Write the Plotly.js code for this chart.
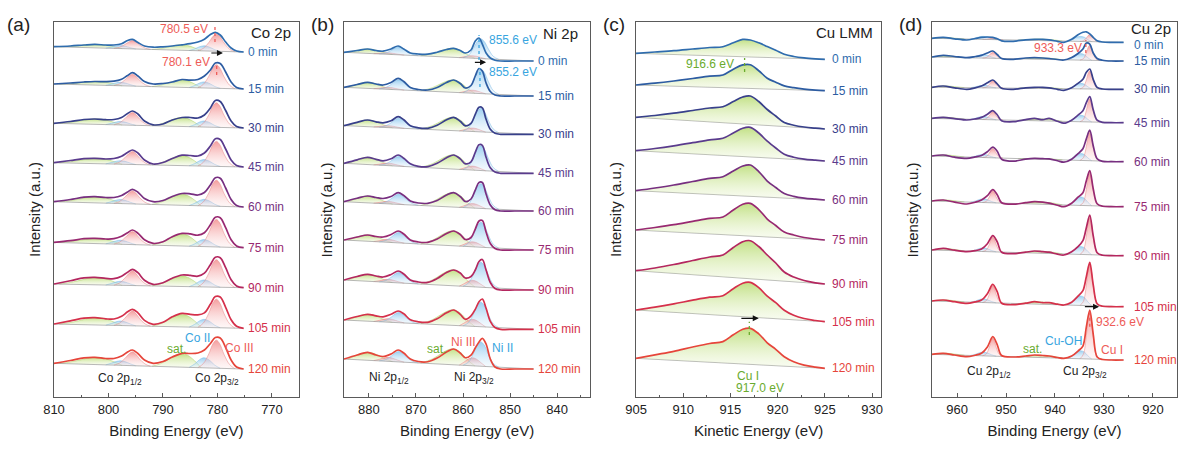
<!DOCTYPE html>
<html><head><meta charset="utf-8">
<script src="https://cdn.plot.ly/plotly-3.0.1.min.js"></script>
<style>html,body{margin:0;padding:0;background:#fff}#chart{width:1192px;height:451px}</style>
</head><body><div id="chart"></div>
<script>
// ---------- shared ----------
const times = ['0 min','15 min','30 min','45 min','60 min','75 min','90 min','105 min','120 min'];

// ---------- (a) Co 2p ----------
const coEnergy = [810, 807, 804.5, 802.5, 800.5, 799, 797.6, 796.5, 795.6, 794.6, 793.4, 791.8, 790, 788.3, 786.5, 785, 783.6, 782.4, 781.3, 780.4, 779.5, 778.5, 777.5, 776.5, 775.2];
const coLevels = [345, 308, 269, 230, 190, 149.3, 109.3, 68.7, 28];
const co0   = [5.3, 6.0, 7.0, 7.6, 7.0, 7.0, 8.3, 11.5, 12.6, 9.5, 6.0, 4.8, 5.2, 6.0, 7.2, 8.3, 10.0, 12.8, 17.5, 19.7, 17.0, 10.0, 4.0, 1.0, 0];
const co15  = [5.0, 6.0, 7.0, 7.5, 7.3, 7.8, 9.8, 13.5, 16.3, 13.0, 7.5, 5.0, 5.5, 7.0, 9.5, 8.8, 9.5, 13.0, 19.0, 26.0, 25.5, 17.0, 7.0, 1.5, 0];
const co30  = [4.7, 6.5, 8.5, 9.0, 8.3, 8.5, 10.5, 14.5, 17.0, 14.0, 7.0, 3.2, 4.0, 8.0, 10.5, 10.5, 10.0, 13.0, 20.0, 27.5, 26.5, 17.5, 7.0, 1.5, 0];
const co45  = [4.3, 6.5, 8.3, 8.7, 8.0, 8.5, 10.8, 14.5, 17.0, 14.0, 7.0, 3.0, 4.5, 8.5, 11.8, 11.5, 11.0, 14.0, 21.0, 28.3, 27.5, 18.0, 7.0, 1.5, 0];
const co60  = [5.3, 7.5, 9.8, 10.3, 9.5, 9.5, 11.5, 15.0, 17.7, 14.8, 8.5, 5.3, 6.5, 10.5, 13.5, 13.2, 12.0, 14.5, 22.0, 29.3, 28.8, 19.0, 7.5, 1.5, 0];
const co75  = [5.3, 7.0, 9.0, 9.3, 8.7, 9.0, 11.5, 15.0, 17.7, 14.5, 8.0, 4.3, 6.0, 11.0, 14.3, 13.8, 12.5, 15.0, 23.0, 30.5, 30.0, 20.0, 8.0, 1.8, 0];
const co90  = [3.7, 7.0, 9.8, 10.3, 9.3, 9.0, 11.5, 15.5, 18.3, 15.0, 7.5, 3.3, 5.0, 9.5, 12.7, 12.3, 11.5, 14.5, 23.0, 30.5, 30.0, 20.0, 8.0, 1.8, 0];
const co105 = [4.3, 7.5, 10.2, 10.7, 9.5, 9.3, 12.0, 16.5, 19.0, 15.5, 8.0, 4.0, 6.0, 11.5, 15.0, 14.0, 13.5, 15.5, 24.0, 31.8, 31.3, 21.0, 8.5, 2.0, 0];
const co120 = [5.7, 8.5, 11.2, 11.7, 10.5, 10.5, 13.0, 17.0, 19.0, 15.5, 9.0, 5.7, 7.5, 12.0, 15.7, 15.5, 16.0, 19.0, 25.5, 31.5, 31.0, 21.5, 9.0, 2.0, 0];
// fitted components (shape, height per spectrum)
const coIII32X = [776.8, 777.8, 778.8, 779.6, 780.2, 780.8, 781.6, 782.6, 783.6];
const coIII32Shape = [0, 0.15, 0.5, 0.88, 1, 0.88, 0.5, 0.15, 0];
const coIII32Amp = [17, 23.5, 24.5, 25, 26, 27.5, 27.5, 28.5, 28];
const coII32X = [779.5, 780.5, 781.3, 782, 782.6, 783.3, 784.2, 785.2];
const coII32Shape = [0, 0.3, 0.7, 0.95, 1, 0.8, 0.35, 0];
const coII32Amp = [5, 6, 6, 6.5, 6.5, 7, 7, 8, 10];
const coSat32X = [783, 784.2, 785.5, 786.5, 787.5, 789, 790.5, 792];
const coSat32Shape = [0, 0.5, 0.9, 1, 0.9, 0.55, 0.2, 0];
const coSat32Amp = [5.5, 7.5, 9, 10, 11, 12, 10.5, 12.5, 13.5];
const coIII12X = [792.3, 793.3, 794.3, 795, 795.6, 796.2, 797, 798, 799];
const coIII12Shape = [0, 0.15, 0.5, 0.85, 1, 0.85, 0.5, 0.15, 0];
const coIII12Amp = [8.3, 11.9, 12.8, 13.1, 13, 13, 14.5, 14.7, 13.8];
const coII12X = [795, 796, 797, 797.8, 798.5, 799.5, 800.5];
const coII12Shape = [0, 0.4, 0.85, 1, 0.85, 0.4, 0];
const coII12Amp = [3, 3.5, 3.5, 3.5, 4, 4, 4, 4.5, 4.5];
const coSat12X = [797.5, 799, 800.5, 802, 803.5, 805, 807, 809];
const coSat12Shape = [0, 0.45, 0.85, 1, 0.9, 0.6, 0.25, 0];
const coSat12Amp = [3.5, 3.7, 5.4, 5.4, 6.2, 5.2, 7.5, 7.4, 7.3];

// ---------- (b) Ni 2p ----------
const niEnergy = [885.3, 882.5, 880.3, 878.5, 877, 875.3, 873.8, 872.6, 871.2, 869.5, 867.5, 865.5, 863.5, 862, 860.6, 859.5, 858.3, 857.4, 856.6, 855.9, 855.1, 854.2, 853.2, 852, 849, 845];
const niLevels = [336, 301, 262.7, 223.7, 186, 147, 107, 67.7, 28];
const ni0   = [8.7, 10.5, 12.0, 10.5, 9.8, 12.0, 15.0, 12.0, 8.0, 7.0, 6.8, 8.8, 11.5, 12.7, 10.5, 8.0, 11.0, 20.0, 23.0, 17.0, 8.0, 3.0, 0.8, 0, 0, 0];
const ni15  = [8.7, 11.5, 13.7, 12.0, 11.0, 13.5, 17.7, 14.5, 8.5, 6.5, 6.0, 8.5, 13.5, 16.0, 12.5, 8.0, 10.5, 20.0, 27.5, 25.0, 13.0, 4.5, 1.0, 0, 0, 0];
const ni30  = [8.7, 12.0, 14.3, 12.5, 11.5, 13.5, 17.7, 14.5, 8.5, 6.5, 6.0, 9.0, 14.5, 17.0, 13.0, 8.5, 11.0, 20.0, 27.0, 26.5, 15.0, 5.0, 1.0, 0, 0, 0];
const ni45  = [10.0, 13.5, 16.0, 14.0, 12.5, 14.5, 18.3, 15.0, 9.5, 7.0, 6.7, 10.0, 15.5, 18.3, 14.5, 9.5, 11.5, 21.0, 28.5, 28.0, 16.0, 5.5, 1.2, 0, 0, 0];
const ni60  = [9.3, 12.8, 15.0, 13.5, 12.5, 14.5, 18.3, 15.5, 10.0, 8.0, 7.7, 10.5, 16.0, 18.3, 14.5, 9.5, 12.0, 21.0, 28.5, 28.5, 17.0, 6.0, 1.2, 0, 0, 0];
const ni75  = [10.0, 13.0, 15.0, 13.5, 13.0, 15.5, 19.0, 16.0, 10.0, 8.0, 7.7, 11.0, 16.5, 19.0, 15.5, 10.5, 12.5, 21.0, 29.0, 29.5, 18.0, 6.5, 1.5, 0, 0, 0];
const ni90  = [10.0, 13.5, 15.7, 14.0, 13.0, 15.5, 19.0, 16.0, 10.0, 8.0, 7.7, 11.5, 17.5, 20.0, 17.0, 12.0, 13.5, 20.0, 28.5, 30.5, 20.0, 7.5, 1.5, 0, 0, 0];
const ni105 = [9.3, 12.8, 15.0, 13.5, 12.5, 15.0, 18.3, 15.5, 9.5, 7.5, 7.0, 10.5, 16.5, 19.3, 15.0, 10.0, 13.5, 20.0, 27.5, 30.3, 21.0, 8.0, 1.8, 0, 0, 0];
const ni120 = [10.0, 14.0, 16.7, 14.0, 12.5, 15.0, 19.0, 16.0, 10.0, 7.5, 7.3, 11.0, 17.0, 20.0, 16.0, 11.3, 14.0, 21.0, 27.0, 30.7, 25.0, 10.0, 2.0, 0, 0, 0];
const niII32X = [852.4, 853.6, 854.6, 855.5, 856.2, 856.9, 857.8, 858.8, 860];
const niII32Shape = [0, 0.15, 0.5, 0.88, 1, 0.88, 0.5, 0.15, 0];
const niII32Amp = [19.7, 24.4, 23.6, 24.7, 24.7, 24.9, 25, 24.5, 24.3];
const niIII32X = [855.2, 856.2, 857.2, 858, 858.8, 859.8, 860.8];
const niIII32Shape = [0, 0.45, 0.88, 1, 0.85, 0.4, 0];
const niIII32Amp = [2.5, 3, 3.5, 4, 4.5, 5, 6.5, 7, 8];
const niSat32X = [857.5, 859, 860.5, 861.8, 863, 864.5, 866.5, 869];
const niSat32Shape = [0, 0.35, 0.8, 1, 0.95, 0.7, 0.3, 0];
const niSat32Amp = [9, 12.3, 13.3, 14.1, 14.4, 14.8, 15.8, 15.4, 15.8];
const niII12X = [869.5, 870.8, 872, 873, 873.6, 874.3, 875.3, 876.5, 877.8];
const niII12Shape = [0, 0.15, 0.5, 0.88, 1, 0.88, 0.5, 0.15, 0];
const niII12Amp = [7.8, 10, 10, 9.7, 10.2, 10.4, 10.4, 10.2, 10.4];
const niIII12X = [872.5, 873.8, 875, 875.8, 876.6, 877.8, 879];
const niIII12Shape = [0, 0.4, 0.85, 1, 0.85, 0.4, 0];
const niIII12Amp = [1.5, 2, 2, 2.5, 2.5, 3, 3, 3.5, 4];
const niSat12X = [875, 876.8, 878.5, 880, 881.5, 883, 884.5];
const niSat12Shape = [0, 0.35, 0.8, 1, 0.85, 0.45, 0];
const niSat12Amp = [4.4, 6.1, 6.7, 7.3, 6.9, 6.3, 7, 6.9, 8];

// ---------- (c) Cu LMM ----------
const lmmEnergy = [905, 907, 909, 911, 912.8, 914.2, 915.3, 916.3, 917.1, 918, 918.9, 919.8, 920.7, 921.7, 922.8, 924, 925];
const lmmLevels = [337.7, 306.3, 268, 236, 197, 157, 113, 75.3, 28.7];
const lmm0   = [6.0, 7.3, 8.6, 10.3, 11.8, 12.6, 16.5, 19.9, 19.3, 16.5, 12.8, 9.0, 5.0, 2.8, 1.4, 0.5, 0];
const lmm15  = [5.7, 7.5, 9.7, 12.2, 14.5, 15.7, 21.5, 25.8, 26.0, 20.0, 12.5, 8.5, 4.8, 3.0, 1.6, 0.6, 0];
const lmm30  = [11.7, 13.5, 15.8, 18.5, 21.0, 22.3, 27.5, 32.0, 33.0, 27.5, 19.5, 13.0, 6.5, 3.8, 2.0, 0.8, 0];
const lmm45  = [10.3, 12.5, 15.2, 18.3, 21.2, 22.7, 28.0, 32.8, 33.7, 28.0, 19.8, 13.0, 6.8, 3.8, 1.9, 0.8, 0];
const lmm60  = [9.3, 12.0, 15.0, 18.5, 21.7, 23.3, 29.0, 34.0, 35.0, 28.5, 19.0, 12.5, 6.5, 3.7, 1.9, 0.8, 0];
const lmm75  = [10.0, 12.5, 15.3, 18.7, 21.7, 23.0, 30.0, 35.8, 36.7, 30.5, 21.0, 14.5, 8.0, 5.0, 2.5, 1.0, 0];
const lmm90  = [13.3, 16.0, 19.5, 23.5, 27.0, 29.0, 36.5, 42.3, 43.3, 37.5, 29.0, 21.0, 12.0, 7.0, 3.5, 1.2, 0];
const lmm105 = [11.7, 14.5, 17.8, 21.5, 24.5, 26.0, 33.0, 38.5, 39.3, 34.0, 25.5, 19.0, 11.5, 6.5, 3.2, 1.2, 0];
const lmm120 = [10.0, 13.5, 17.0, 21.3, 24.8, 26.7, 33.5, 39.0, 40.0, 34.5, 25.5, 19.0, 11.5, 6.5, 3.2, 1.2, 0];

// ---------- (d) Cu 2p ----------
const cuEnergy = [965.1, 962.8, 960.5, 958, 956.3, 955, 953.8, 952.7, 951.8, 950.9, 948.5, 946, 944.2, 942.5, 941.2, 939.5, 938.2, 936.6, 935.3, 934.3, 933.6, 932.9, 932.2, 931.4, 930.3, 928.5, 926];
const cuLevels = [354.7, 336, 307.7, 274.3, 235.3, 190.3, 141.3, 90.3, 37];
const cu0   = [4.0, 5.0, 3.5, 2.3, 3.8, 5.0, 5.3, 5.0, 3.5, 1.5, 1.0, 2.5, 3.0, 3.0, 2.5, 1.0, 0.0, 3.0, 7.5, 10.0, 10.5, 8.5, 5.0, 1.5, 0.3, 0, 0];
const cu15  = [4.0, 5.7, 4.5, 3.3, 4.5, 5.7, 8.0, 10.0, 6.5, 2.5, 1.7, 3.0, 3.3, 3.0, 2.5, 1.5, 1.0, 3.5, 7.5, 12.0, 18.0, 17.0, 8.0, 2.5, 0.8, 0, 0];
const cu30  = [2.0, 3.3, 1.5, 0.0, 1.5, 3.3, 6.5, 9.3, 5.5, 1.0, 0.0, 1.5, 2.0, 2.0, 1.5, 0.0, -1.0, 1.5, 6.0, 10.0, 17.0, 20.3, 10.0, 2.0, 0.3, 0, 0];
const cu45  = [4.3, 5.3, 4.0, 2.7, 3.8, 5.3, 8.5, 12.0, 8.0, 2.0, 1.0, 3.0, 4.3, 3.0, 4.3, 1.5, -0.5, 2.5, 7.5, 12.0, 20.0, 26.0, 13.0, 2.5, 0.3, 0, 0];
const cu60  = [5.7, 6.7, 4.5, 3.3, 4.8, 6.3, 10.0, 14.5, 10.5, 2.5, 0.5, 2.5, 3.3, 3.0, 2.8, 1.0, -0.5, 2.5, 8.0, 13.0, 23.0, 31.5, 16.0, 3.0, 0.3, 0, 0];
const cu75  = [5.7, 6.7, 4.5, 2.7, 4.5, 6.7, 11.0, 17.0, 12.0, 4.0, 2.5, 4.0, 5.0, 4.5, 3.5, 1.5, 0.0, 3.5, 9.5, 14.0, 26.0, 36.0, 18.0, 3.0, 0.5, 0, 0];
const cu90  = [5.7, 7.3, 5.5, 4.0, 5.0, 6.7, 12.0, 20.0, 14.0, 3.5, 2.0, 3.5, 4.7, 4.0, 3.5, 1.5, 0.7, 4.0, 9.0, 15.0, 28.0, 40.7, 20.0, 3.0, 0.5, 0, 0];
const cu105 = [5.7, 6.7, 5.0, 3.3, 4.8, 6.7, 13.0, 22.3, 15.0, 3.5, 2.0, 3.5, 5.0, 4.0, 4.0, 2.5, 1.7, 4.5, 10.5, 16.0, 30.0, 44.3, 22.0, 3.0, 0.5, 0, 0];
const cu120 = [5.7, 6.7, 5.0, 3.3, 4.8, 6.7, 13.0, 23.3, 15.5, 4.5, 3.0, 4.0, 5.0, 4.5, 4.0, 2.5, 1.7, 4.0, 9.0, 14.0, 33.0, 50.0, 26.0, 3.0, 0.5, 0, 0];
const cuI32X = [930.9, 931.6, 932.2, 932.6, 932.9, 933.2, 933.6, 934.2, 934.9];
const cuI32Shape = [0, 0.1, 0.5, 0.88, 1, 0.88, 0.5, 0.1, 0];
const cuI32Amp = [7, 15, 18, 23, 28.3, 32.5, 37, 40.5, 46.3];
const cuOH32X = [932.5, 933.3, 934, 934.8, 935.6, 936.3, 937.2];
const cuOH32Shape = [0, 0.4, 0.85, 1, 0.85, 0.4, 0];
const cuOH32Amp = [5, 6.5, 5.5, 6.5, 7, 8.5, 8, 9.5, 8];
const cuI12X = [950.6, 951.4, 952, 952.4, 952.7, 953.0, 953.4, 954, 954.8];
const cuI12Shape = [0, 0.12, 0.5, 0.88, 1, 0.88, 0.5, 0.12, 0];
const cuI12Amp = [1.5, 6, 7, 8, 9.3, 11.7, 14.7, 17, 18];
const cuOH12X = [952, 953, 953.8, 954.6, 955.4, 956.2, 957.2];
const cuOH12Shape = [0, 0.4, 0.85, 1, 0.85, 0.4, 0];
const cuOH12Amp = [3, 3.5, 2.5, 3, 3, 3.5, 3.5, 3.5, 3.5];
const cuSatAX = [938.5, 940.5, 942, 943.5, 945.5, 947.5];
const cuSatAShape = [0, 0.7, 0.9, 1, 0.5, 0];
const cuSatAAmp = [1.5, 1.5, 1, 2, 0.8, 2.3, 2, 2.3, 2.3];
const cuSatBX = [958.5, 960.5, 962.3, 964, 965.1];
const cuSatBShape = [0, 0.6, 1, 0.6, 0];
const cuSatBAmp = [1, 1.5, 1.5, 1.5, 1.5, 1.5, 2, 1.5, 1.5];

// ---------- axis ticks ----------
const coTicks = [810, 800, 790, 780, 770];
const niTicks = [880, 870, 860, 850, 840];
const lmmTicks = [905, 910, 915, 920, 925, 930];
const cuTicks = [960, 950, 940, 930, 920];

// ---------- styles ----------
const FONT = 'Arial, "Liberation Sans", sans-serif';
const lineColors = ['#2f6cae','#2d5ca2','#38408b','#5a3b8d','#772f80','#982971','#b4275f','#d5304b','#e6453b'];
const FILL = {
  red:   [[0,'rgba(252,225,225,0.25)'],[1,'rgba(240,120,120,0.72)']],
  blue:  [[0,'rgba(215,235,250,0.25)'],[1,'rgba(110,185,235,0.68)']],
  green: [[0,'rgba(232,244,205,0.25)'],[1,'rgba(165,210,75,0.68)']]
};
const EDGE = {red:'rgba(232,140,140,0.9)', blue:'rgba(130,190,230,0.9)', green:'rgba(175,210,110,0.9)'};

const traces = [];
function addPanel(n, xg, levels, spectra, comps, smoothing, fillWhole) {
  const xa = n === 1 ? 'x' : 'x' + n, ya = n === 1 ? 'y' : 'y' + n;
  const x0 = xg[0], x1 = xg[xg.length - 1];
  spectra.forEach((s, i) => {
    const lev = levels[i], L = s[0];
    const base = x => lev + L * (x - x1) / (x0 - x1);
    comps.forEach(c => {
      traces.push({type:'scatter', mode:'lines', xaxis:xa, yaxis:ya, x:c.x,
        y:c.x.map((v, k) => base(v) + c.amp[i] * c.shape[k]),
        fill:'toself', fillgradient:{type:'vertical', colorscale:FILL[c.kind]},
        line:{color:EDGE[c.kind], width:0.6, shape:'spline', smoothing:1},
        hoverinfo:'skip', showlegend:false});
    });
    traces.push({type:'scatter', mode:'lines', xaxis:xa, yaxis:ya, x:[x0, x1], y:[lev + L, lev],
      line:{color:'rgba(150,150,150,0.85)', width:0.8}, hoverinfo:'skip', showlegend:false});
    const env = {type:'scatter', mode:'lines', xaxis:xa, yaxis:ya, x:xg, y:s.map(v => v + lev),
      line:{color:lineColors[i], width:1.7, shape:'spline', smoothing:smoothing},
      name:times[i], showlegend:false};
    if (fillWhole) { env.fill = 'toself'; env.fillgradient = {type:'vertical', colorscale:FILL.green}; }
    traces.push(env);
  });
}

addPanel(1, coEnergy, coLevels, [co0,co15,co30,co45,co60,co75,co90,co105,co120], [
  {x:coSat12X, shape:coSat12Shape, amp:coSat12Amp, kind:'green'},
  {x:coSat32X, shape:coSat32Shape, amp:coSat32Amp, kind:'green'},
  {x:coII12X, shape:coII12Shape, amp:coII12Amp, kind:'blue'},
  {x:coII32X, shape:coII32Shape, amp:coII32Amp, kind:'blue'},
  {x:coIII12X, shape:coIII12Shape, amp:coIII12Amp, kind:'red'},
  {x:coIII32X, shape:coIII32Shape, amp:coIII32Amp, kind:'red'}
], 1, false);
addPanel(2, niEnergy, niLevels, [ni0,ni15,ni30,ni45,ni60,ni75,ni90,ni105,ni120], [
  {x:niSat12X, shape:niSat12Shape, amp:niSat12Amp, kind:'green'},
  {x:niSat32X, shape:niSat32Shape, amp:niSat32Amp, kind:'green'},
  {x:niIII12X, shape:niIII12Shape, amp:niIII12Amp, kind:'red'},
  {x:niIII32X, shape:niIII32Shape, amp:niIII32Amp, kind:'red'},
  {x:niII12X, shape:niII12Shape, amp:niII12Amp, kind:'blue'},
  {x:niII32X, shape:niII32Shape, amp:niII32Amp, kind:'blue'}
], 1, false);
addPanel(3, lmmEnergy, lmmLevels, [lmm0,lmm15,lmm30,lmm45,lmm60,lmm75,lmm90,lmm105,lmm120], [], 1, true);
addPanel(4, cuEnergy, cuLevels, [cu0,cu15,cu30,cu45,cu60,cu75,cu90,cu105,cu120], [
  {x:cuSatBX, shape:cuSatBShape, amp:cuSatBAmp, kind:'green'},
  {x:cuSatAX, shape:cuSatAShape, amp:cuSatAAmp, kind:'green'},
  {x:cuOH12X, shape:cuOH12Shape, amp:cuOH12Amp, kind:'blue'},
  {x:cuOH32X, shape:cuOH32Shape, amp:cuOH32Amp, kind:'blue'},
  {x:cuI12X, shape:cuI12Shape, amp:cuI12Amp, kind:'red'},
  {x:cuI32X, shape:cuI32Shape, amp:cuI32Amp, kind:'red'}
], 0.9, false);

// ---------- layout ----------
const AX = '#5a5a5a';
function xAxis(dom, range, ticks, minor, title, anchor) {
  return {domain:dom, range:range, anchor:anchor, tickmode:'array', tickvals:ticks, ticktext:ticks.map(String),
    ticks:'inside', ticklen:4, tickcolor:AX, tickwidth:1, showline:true, linecolor:AX, linewidth:1, mirror:true,
    showgrid:false, zeroline:false, tickfont:{size:13, color:'#222', family:FONT},
    minor:{tickmode:'array', tickvals:minor, ticks:'inside', ticklen:2.5, tickcolor:AX, showgrid:false},
    title:{text:title, font:{size:15, color:'#222', family:FONT}, standoff:9}};
}
function yAxis(anchor) {
  return {domain:[0.1197, 0.9512], range:[0, 375], anchor:anchor, showticklabels:false, ticks:'',
    showline:true, linecolor:AX, linewidth:1, mirror:true, showgrid:false, zeroline:false, fixedrange:true};
}

const RED = '#ee5c58', BLUE = '#38a5e0', GREEN = '#6aab2e', BLACK = '#222';
const annotations = [];
function txt(n, x, y, text, color, xanchor, size) {
  annotations.push({xref: n === 1 ? 'x' : 'x' + n, yref: n === 1 ? 'y' : 'y' + n, x:x, y:y, text:text,
    showarrow:false, xanchor:xanchor || 'center', yanchor:'middle', font:{size:size || 12, color:color, family:FONT}});
}
function arrow(n, xTail, xHead, y) {
  annotations.push({xref: n === 1 ? 'x' : 'x' + n, yref: n === 1 ? 'y' : 'y' + n, x:xHead, y:y, ax:xTail, ay:y,
    axref: n === 1 ? 'x' : 'x' + n, ayref: n === 1 ? 'y' : 'y' + n, text:'', showarrow:true,
    arrowhead:2, arrowsize:1, arrowwidth:1.2, arrowcolor:'#111'});
}
const shapes = [];
function dash(n, x, y0, y1, color) {
  shapes.push({type:'line', xref: n === 1 ? 'x' : 'x' + n, yref: n === 1 ? 'y' : 'y' + n, x0:x, x1:x, y0:y0, y1:y1,
    line:{color:color, width:1.3, dash:'dot'}});
}

// time labels (the top label of panel d sits a little lower to clear the panel title)
const labelX = [774.8, 844.4, 925.5, 924.3];
const levelSets = [coLevels, niLevels, lmmLevels, cuLevels];
for (let p = 0; p < 4; p++) {
  times.forEach((t, i) => {
    const yy = (p === 3 && i === 0) ? levelSets[p][i] - 3 : levelSets[p][i];
    txt(p + 1, labelX[p], yy, t, lineColors[i], 'left', 12);
  });
}
// (a)
txt(1, 766.1, 365, 'Co 2p', BLACK, 'right', 15);
txt(1, 781.3, 368, '780.5 eV', RED, 'right');
dash(1, 780.46, 355, 370, RED);
arrow(1, 781.4, 779.0, 344);
txt(1, 781.0, 335.3, '780.1 eV', RED, 'right');
dash(1, 780.15, 322, 334, RED);
txt(1, 783.6, 58.7, 'Co II', BLUE);
txt(1, 775.9, 49.3, 'Co III', RED);
txt(1, 787.6, 47.7, 'sat.', GREEN);
txt(1, 797.9, 17.7, 'Co 2p<sub>1/2</sub>', BLACK);
txt(1, 780.1, 17.7, 'Co 2p<sub>3/2</sub>', BLACK);
// (b)
txt(2, 835.1, 363.7, 'Ni 2p', BLACK, 'right', 15);
txt(2, 854.9, 357, '855.6 eV', BLUE, 'left');
dash(2, 856.6, 337, 362, BLUE);
arrow(2, 857.8, 855.1, 334.7);
txt(2, 854.9, 325.3, '855.2 eV', BLUE, 'left');
dash(2, 856.4, 310, 329, BLUE);
txt(2, 865.7, 47.7, 'sat.', GREEN);
txt(2, 860.0, 55.3, 'Ni III', RED);
txt(2, 851.7, 49.3, 'Ni II', BLUE);
txt(2, 875.7, 18.7, 'Ni 2p<sub>1/2</sub>', BLACK);
txt(2, 857.6, 18.7, 'Ni 2p<sub>3/2</sub>', BLACK);
// (c)
txt(3, 930.3, 364.7, 'Cu LMM', BLACK, 'right', 15);
txt(3, 912.8, 332.7, '916.6 eV', GREEN);
dash(3, 916.5, 325, 339, GREEN);
arrow(3, 916.0, 918.0, 78.7);
dash(3, 917.0, 62, 75.3, GREEN);
txt(3, 916.9, 21, 'Cu I', GREEN);
txt(3, 918.1, 8.7, '917.0 eV', GREEN);
// (d)
txt(4, 915.9, 368.5, 'Cu 2p', BLACK, 'right', 15);
txt(4, 939.4, 349.3, '933.3 eV', RED);
dash(4, 933.7, 344, 357, RED);
arrow(4, 934.2, 931.0, 90.3);
txt(4, 932.0, 75.3, '932.6 eV', RED, 'left');
dash(4, 932.9, 70.3, 85.3, RED);
txt(4, 938.2, 56, 'Cu-OH', BLUE);
txt(4, 928.4, 47, 'Cu I', RED);
txt(4, 944.5, 48, 'sat.', GREEN);
txt(4, 953.5, 25.3, 'Cu 2p<sub>1/2</sub>', BLACK);
txt(4, 933.8, 25.3, 'Cu 2p<sub>3/2</sub>', BLACK);

// panel letters and y titles
const letters = [['(a)', 18], ['(b)', 322], ['(c)', 614], ['(d)', 910]];
letters.forEach(([t, px]) => annotations.push({xref:'paper', yref:'paper', x:px / 1192, y:1 - 25 / 451, text:t,
  showarrow:false, xanchor:'center', yanchor:'middle', font:{size:19, color:BLACK, family:FONT}}));
[35, 326.5, 616, 912.5].forEach(px => annotations.push({xref:'paper', yref:'paper', x:px / 1192, y:1 - 210 / 451,
  text:'Intensity (a.u.)', textangle:-90, showarrow:false, xanchor:'center', yanchor:'middle',
  font:{size:15, color:BLACK, family:FONT}}));

const layout = {
  width:1192, height:451, margin:{l:0, r:0, t:0, b:0}, paper_bgcolor:'#fff', plot_bgcolor:'#fff',
  font:{family:FONT, color:BLACK}, showlegend:false,
  xaxis:  xAxis([0.0453, 0.2508], [810, 765.05], coTicks, [805, 795, 785, 775], 'Binding Energy (eV)', 'y'),
  yaxis:  yAxis('x'),
  xaxis2: xAxis([0.2886, 0.4950], [885.3, 833], niTicks, [875, 865, 855, 845, 835], 'Binding Energy (eV)', 'y2'),
  yaxis2: yAxis('x2'),
  xaxis3: xAxis([0.5336, 0.7391], [905, 930.95], lmmTicks, [907.5, 912.5, 917.5, 922.5, 927.5], 'Kinetic Energy (eV)', 'y3'),
  yaxis3: yAxis('x3'),
  xaxis4: xAxis([0.7819, 0.9874], [965.1, 915.1], cuTicks, [955, 945, 935, 925], 'Binding Energy (eV)', 'y4'),
  yaxis4: yAxis('x4'),
  annotations:annotations, shapes:shapes
};
Plotly.newPlot('chart', traces, layout, {staticPlot:true, displayModeBar:false});
</script></body></html>
